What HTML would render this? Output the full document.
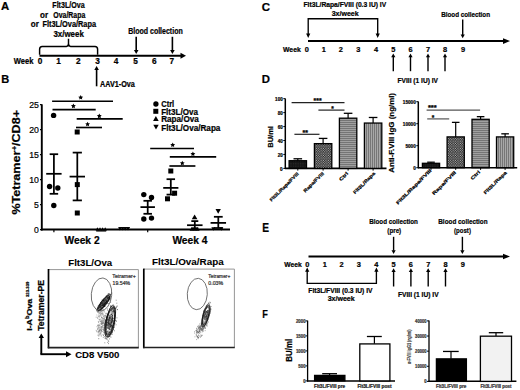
<!DOCTYPE html>
<html><head><meta charset="utf-8"><style>
html,body{margin:0;padding:0;background:#fff;}
body{width:520px;height:390px;overflow:hidden;}
svg{display:block;font-family:"Liberation Sans", sans-serif;}
text{stroke:#000;stroke-width:0.22px;}
</style></head><body>
<svg width="520" height="390" viewBox="0 0 520 390">
<rect width="520" height="390" fill="#fff"/>
<text x="1" y="10.4" font-size="11.5" font-weight="700" text-anchor="start" fill="#000" textLength="8.2" lengthAdjust="spacingAndGlyphs" >A</text>
<text x="52.3" y="8.1" font-size="8.25" font-weight="700" text-anchor="start" fill="#000" textLength="32.3" lengthAdjust="spacingAndGlyphs" >Flt3L/Ova</text>
<text x="40" y="17.6" font-size="8.25" font-weight="700" text-anchor="start" fill="#000" textLength="8" lengthAdjust="spacingAndGlyphs" >or</text>
<text x="53.3" y="17.6" font-size="8.25" font-weight="700" text-anchor="start" fill="#000" textLength="32" lengthAdjust="spacingAndGlyphs" >Ova/Rapa</text>
<text x="30.8" y="27.3" font-size="8.25" font-weight="700" text-anchor="start" fill="#000" textLength="8" lengthAdjust="spacingAndGlyphs" >or</text>
<text x="42.5" y="27.3" font-size="8.25" font-weight="700" text-anchor="start" fill="#000" textLength="53.5" lengthAdjust="spacingAndGlyphs" >Flt3L/Ova/Rapa</text>
<text x="53.4" y="36.9" font-size="8.25" font-weight="700" text-anchor="start" fill="#000" textLength="30.4" lengthAdjust="spacingAndGlyphs" >3x/week</text>
<path d="M39.6,54.8 L39.6,49.2 Q39.6,46.4 42.2,46.4 L66.4,46.4 Q68.5,46.4 68.5,43.6 L68.5,38.8 M68.5,43.6 Q68.5,46.4 70.6,46.4 L95,46.4 Q97.6,46.4 97.6,49.2 L97.6,54.8" fill="none" stroke="#000" stroke-width="1.45"/>
<line x1="39.5" y1="55.8" x2="181.0" y2="55.8" stroke="#000" stroke-width="2"/>
<path d="M180.5,52.8 L180.5,58.8 L186,55.8 Z" fill="#000"/>
<text x="13.8" y="64.2" font-size="8.25" font-weight="700" text-anchor="start" fill="#000" textLength="19.6" lengthAdjust="spacingAndGlyphs" >Week</text>
<text x="40" y="64.3" font-size="8.25" font-weight="700" text-anchor="middle" fill="#000" >0</text>
<text x="58.6" y="64.3" font-size="8.25" font-weight="700" text-anchor="middle" fill="#000" >1</text>
<text x="78.2" y="64.3" font-size="8.25" font-weight="700" text-anchor="middle" fill="#000" >2</text>
<text x="97.5" y="64.3" font-size="8.25" font-weight="700" text-anchor="middle" fill="#000" >3</text>
<text x="116" y="64.3" font-size="8.25" font-weight="700" text-anchor="middle" fill="#000" >4</text>
<text x="135.6" y="64.3" font-size="8.25" font-weight="700" text-anchor="middle" fill="#000" >5</text>
<text x="154.3" y="64.3" font-size="8.25" font-weight="700" text-anchor="middle" fill="#000" >6</text>
<text x="171.8" y="64.3" font-size="8.25" font-weight="700" text-anchor="middle" fill="#000" >7</text>
<text x="128.2" y="34.2" font-size="8.25" font-weight="700" text-anchor="start" fill="#000" textLength="54.5" lengthAdjust="spacingAndGlyphs" >Blood collection</text>
<line x1="136.2" y1="36.8" x2="136.2" y2="50.5" stroke="#000" stroke-width="1.6"/>
<path d="M133.89999999999998,50 L138.5,50 L136.2,54 Z" fill="#000"/>
<line x1="172.4" y1="36.8" x2="172.4" y2="50.5" stroke="#000" stroke-width="1.6"/>
<path d="M170.1,50 L174.70000000000002,50 L172.4,54 Z" fill="#000"/>
<line x1="96.6" y1="86.3" x2="96.6" y2="69.5" stroke="#000" stroke-width="1.6"/>
<path d="M94.3,70 L98.89999999999999,70 L96.6,66 Z" fill="#000"/>
<text x="100" y="86.8" font-size="8.25" font-weight="700" text-anchor="start" fill="#000" textLength="34.8" lengthAdjust="spacingAndGlyphs" >AAV1-Ova</text>
<text x="1.2" y="83" font-size="11.5" font-weight="700" text-anchor="start" fill="#000" textLength="8" lengthAdjust="spacingAndGlyphs" >B</text>
<line x1="41.8" y1="104.3" x2="41.8" y2="230.5" stroke="#000" stroke-width="1.9"/>
<line x1="40" y1="229.7" x2="41.8" y2="229.7" stroke="#000" stroke-width="1.2"/>
<text x="38.9" y="232.89999999999998" font-size="9.6" font-weight="400" text-anchor="end" fill="#000" textLength="4.8" lengthAdjust="spacingAndGlyphs" >0</text>
<line x1="40" y1="204.7" x2="41.8" y2="204.7" stroke="#000" stroke-width="1.2"/>
<text x="38.9" y="207.89999999999998" font-size="9.6" font-weight="400" text-anchor="end" fill="#000" textLength="4.8" lengthAdjust="spacingAndGlyphs" >5</text>
<line x1="40" y1="179.7" x2="41.8" y2="179.7" stroke="#000" stroke-width="1.2"/>
<text x="38.9" y="182.89999999999998" font-size="9.6" font-weight="400" text-anchor="end" fill="#000" textLength="9.7" lengthAdjust="spacingAndGlyphs" >10</text>
<line x1="40" y1="154.7" x2="41.8" y2="154.7" stroke="#000" stroke-width="1.2"/>
<text x="38.9" y="157.89999999999998" font-size="9.6" font-weight="400" text-anchor="end" fill="#000" textLength="9.7" lengthAdjust="spacingAndGlyphs" >15</text>
<line x1="40" y1="129.7" x2="41.8" y2="129.7" stroke="#000" stroke-width="1.2"/>
<text x="38.9" y="132.89999999999998" font-size="9.6" font-weight="400" text-anchor="end" fill="#000" textLength="9.7" lengthAdjust="spacingAndGlyphs" >20</text>
<line x1="40" y1="104.69999999999999" x2="41.8" y2="104.69999999999999" stroke="#000" stroke-width="1.2"/>
<text x="38.9" y="107.89999999999999" font-size="9.6" font-weight="400" text-anchor="end" fill="#000" textLength="9.7" lengthAdjust="spacingAndGlyphs" >25</text>
<line x1="41" y1="229.6" x2="230" y2="229.6" stroke="#000" stroke-width="2.0"/>
<line x1="53.9" y1="229.6" x2="53.9" y2="232.3" stroke="#000" stroke-width="1.2"/>
<line x1="147.7" y1="229.6" x2="147.7" y2="232.3" stroke="#000" stroke-width="1.2"/>
<text x="64.5" y="243.6" font-size="10.3" font-weight="700" text-anchor="start" fill="#000" textLength="35.1" lengthAdjust="spacingAndGlyphs" >Week 2</text>
<text x="172.4" y="243.6" font-size="10.3" font-weight="700" text-anchor="start" fill="#000" textLength="35.1" lengthAdjust="spacingAndGlyphs" >Week 4</text>
<text transform="translate(20.4,214.6) rotate(-90)" font-size="10.3" font-weight="700" textLength="104.6" lengthAdjust="spacingAndGlyphs">%Tetramer<tspan font-size="6.5" dy="-3.5">+</tspan><tspan dy="3.5">/CD8+</tspan></text>
<line x1="52.1" y1="101.2" x2="113" y2="101.2" stroke="#000" stroke-width="1.65"/>
<polygon points="80.70,94.95 81.45,96.47 83.13,96.71 81.91,97.89 82.20,99.56 80.70,98.78 79.20,99.56 79.49,97.89 78.27,96.71 79.95,96.47" fill="#000"/>
<line x1="52.5" y1="109.6" x2="95.7" y2="109.6" stroke="#000" stroke-width="1.65"/>
<polygon points="73.40,103.55 74.15,105.07 75.83,105.31 74.61,106.49 74.90,108.16 73.40,107.38 71.90,108.16 72.19,106.49 70.97,105.31 72.65,105.07" fill="#000"/>
<line x1="76.7" y1="118.9" x2="122.7" y2="118.9" stroke="#000" stroke-width="1.65"/>
<polygon points="99.30,113.55 100.05,115.07 101.73,115.31 100.51,116.49 100.80,118.16 99.30,117.38 97.80,118.16 98.09,116.49 96.87,115.31 98.55,115.07" fill="#000"/>
<line x1="76" y1="127.5" x2="102" y2="127.5" stroke="#000" stroke-width="1.65"/>
<polygon points="87.60,121.65 88.35,123.17 90.03,123.41 88.81,124.59 89.10,126.26 87.60,125.48 86.10,126.26 86.39,124.59 85.17,123.41 86.85,123.17" fill="#000"/>
<line x1="150.2" y1="148.5" x2="194" y2="148.5" stroke="#000" stroke-width="1.65"/>
<polygon points="172.70,142.45 173.45,143.97 175.13,144.21 173.91,145.39 174.20,147.06 172.70,146.28 171.20,147.06 171.49,145.39 170.27,144.21 171.95,143.97" fill="#000"/>
<line x1="169.8" y1="156.9" x2="216.2" y2="156.9" stroke="#000" stroke-width="1.65"/>
<polygon points="192.90,151.45 193.65,152.97 195.33,153.21 194.11,154.39 194.40,156.06 192.90,155.28 191.40,156.06 191.69,154.39 190.47,153.21 192.15,152.97" fill="#000"/>
<line x1="169.4" y1="166" x2="195.4" y2="166" stroke="#000" stroke-width="1.65"/>
<polygon points="182.30,160.65 183.05,162.17 184.73,162.41 183.51,163.59 183.80,165.26 182.30,164.47 180.80,165.26 181.09,163.59 179.87,162.41 181.55,162.17" fill="#000"/>
<line x1="53.9" y1="154.2" x2="53.9" y2="193.8" stroke="#000" stroke-width="1.75"/>
<line x1="49.65" y1="154.2" x2="58.15" y2="154.2" stroke="#000" stroke-width="1.75"/>
<line x1="49.65" y1="193.8" x2="58.15" y2="193.8" stroke="#000" stroke-width="1.75"/>
<line x1="46.199999999999996" y1="173.8" x2="61.6" y2="173.8" stroke="#000" stroke-width="1.75"/>
<circle cx="53.6" cy="115.4" r="2.7" fill="#000"/>
<circle cx="49.6" cy="186.5" r="2.7" fill="#000"/>
<circle cx="57.8" cy="188.0" r="2.7" fill="#000"/>
<circle cx="53.8" cy="205.5" r="2.7" fill="#000"/>
<line x1="77.3" y1="152.6" x2="77.3" y2="200.4" stroke="#000" stroke-width="1.75"/>
<line x1="72.7" y1="152.6" x2="81.89999999999999" y2="152.6" stroke="#000" stroke-width="1.75"/>
<line x1="72.7" y1="200.4" x2="81.89999999999999" y2="200.4" stroke="#000" stroke-width="1.75"/>
<line x1="69.6" y1="176.6" x2="85.0" y2="176.6" stroke="#000" stroke-width="1.75"/>
<rect x="74.7" y="129.5" width="5.0" height="5.0" fill="#000"/>
<rect x="74.8" y="182.1" width="5.0" height="5.0" fill="#000"/>
<rect x="74.8" y="210.5" width="5.0" height="5.0" fill="#000"/>
<path d="M97.4,227.3208 L99.2,230.4528 L95.60000000000001,230.4528 Z" fill="#000"/>
<path d="M100.0,227.3208 L101.8,230.4528 L98.2,230.4528 Z" fill="#000"/>
<path d="M102.60000000000001,227.3208 L104.4,230.4528 L100.80000000000001,230.4528 Z" fill="#000"/>
<path d="M105.2,227.3208 L107.0,230.4528 L103.4,230.4528 Z" fill="#000"/>
<line x1="96.2" y1="230.9" x2="106.2" y2="230.9" stroke="#000" stroke-width="1.3"/>
<path d="M119.9,230.3792 L121.7,227.2472 L118.10000000000001,227.2472 Z" fill="#000"/>
<path d="M122.60000000000001,230.3792 L124.4,227.2472 L120.80000000000001,227.2472 Z" fill="#000"/>
<path d="M125.3,230.3792 L127.1,227.2472 L123.5,227.2472 Z" fill="#000"/>
<path d="M128.0,230.3792 L129.8,227.2472 L126.2,227.2472 Z" fill="#000"/>
<line x1="118.8" y1="227.7" x2="129.8" y2="227.7" stroke="#000" stroke-width="1.2"/>
<line x1="147.7" y1="200.8" x2="147.7" y2="213.8" stroke="#000" stroke-width="1.75"/>
<line x1="143.45" y1="200.8" x2="151.95" y2="200.8" stroke="#000" stroke-width="1.75"/>
<line x1="143.45" y1="213.8" x2="151.95" y2="213.8" stroke="#000" stroke-width="1.75"/>
<line x1="140.45" y1="207.1" x2="154.95" y2="207.1" stroke="#000" stroke-width="1.75"/>
<circle cx="143.8" cy="194.6" r="2.7" fill="#000"/>
<circle cx="151.5" cy="197.5" r="2.7" fill="#000"/>
<circle cx="143.8" cy="219" r="2.7" fill="#000"/>
<circle cx="151.5" cy="218.1" r="2.7" fill="#000"/>
<line x1="170.8" y1="179.2" x2="170.8" y2="194.6" stroke="#000" stroke-width="1.75"/>
<line x1="166.55" y1="179.2" x2="175.05" y2="179.2" stroke="#000" stroke-width="1.75"/>
<line x1="166.55" y1="194.6" x2="175.05" y2="194.6" stroke="#000" stroke-width="1.75"/>
<line x1="163.20000000000002" y1="187.9" x2="178.4" y2="187.9" stroke="#000" stroke-width="1.75"/>
<rect x="168.3" y="168.5" width="5.0" height="5.0" fill="#000"/>
<rect x="165.0" y="196.3" width="5.0" height="5.0" fill="#000"/>
<rect x="172.1" y="190.7" width="5.0" height="5.0" fill="#000"/>
<line x1="194.8" y1="221.1" x2="194.8" y2="228.2" stroke="#000" stroke-width="1.75"/>
<line x1="191.3" y1="221.1" x2="198.3" y2="221.1" stroke="#000" stroke-width="1.75"/>
<line x1="191.3" y1="228.2" x2="198.3" y2="228.2" stroke="#000" stroke-width="1.75"/>
<line x1="187.05" y1="225.2" x2="202.55" y2="225.2" stroke="#000" stroke-width="1.75"/>
<path d="M194.6,214.3768 L197.4,219.24880000000002 L191.79999999999998,219.24880000000002 Z" fill="#000"/>
<path d="M191.6,227.312 L193.6,230.792 L189.6,230.792 Z" fill="#000"/>
<path d="M194.6,227.312 L196.6,230.792 L192.6,230.792 Z" fill="#000"/>
<path d="M197.6,227.312 L199.6,230.792 L195.6,230.792 Z" fill="#000"/>
<line x1="218.3" y1="216.8" x2="218.3" y2="228" stroke="#000" stroke-width="1.75"/>
<line x1="213.9" y1="216.8" x2="222.70000000000002" y2="216.8" stroke="#000" stroke-width="1.75"/>
<line x1="213.9" y1="228" x2="222.70000000000002" y2="228" stroke="#000" stroke-width="1.75"/>
<line x1="210.55" y1="222.9" x2="226.05" y2="222.9" stroke="#000" stroke-width="1.75"/>
<path d="M218.2,213.8188 L220.89999999999998,209.1208 L215.5,209.1208 Z" fill="#000"/>
<path d="M213.3,230.688 L215.3,227.208 L211.3,227.208 Z" fill="#000"/>
<path d="M221.3,230.688 L223.3,227.208 L219.3,227.208 Z" fill="#000"/>
<circle cx="155.9" cy="104.0" r="2.65" fill="#000"/>
<rect x="153.3" y="108.8" width="5.0" height="5.0" fill="#000"/>
<path d="M155.9,116.0768 L158.70000000000002,120.9488 L153.1,120.9488 Z" fill="#000"/>
<path d="M156.0,129.4188 L158.7,124.7208 L153.3,124.7208 Z" fill="#000"/>
<text x="161.2" y="106.5" font-size="8.6" font-weight="700" text-anchor="start" fill="#000" textLength="13" lengthAdjust="spacingAndGlyphs" >Ctrl</text>
<text x="161.2" y="114.8" font-size="8.6" font-weight="700" text-anchor="start" fill="#000" textLength="36.8" lengthAdjust="spacingAndGlyphs" >Flt3L/Ova</text>
<text x="161.2" y="122.1" font-size="8.6" font-weight="700" text-anchor="start" fill="#000" textLength="37.6" lengthAdjust="spacingAndGlyphs" >Rapa/Ova</text>
<text x="161.2" y="130.8" font-size="8.6" font-weight="700" text-anchor="start" fill="#000" textLength="59.2" lengthAdjust="spacingAndGlyphs" >Flt3L/Ova/Rapa</text>
<text x="68.3" y="265.7" font-size="9.4" font-weight="700" text-anchor="start" fill="#000" style="stroke:#000;stroke-width:0.08px" textLength="43.9" lengthAdjust="spacingAndGlyphs" >Flt3L/Ova</text>
<text x="151.9" y="265.3" font-size="9.4" font-weight="700" text-anchor="start" fill="#000" style="stroke:#000;stroke-width:0.08px" textLength="71.8" lengthAdjust="spacingAndGlyphs" >Flt3L/Ova/Rapa</text>
<line x1="48.5" y1="269.6" x2="138.4" y2="269.6" stroke="#8a8a8a" stroke-width="0.9"/>
<line x1="138.4" y1="269.6" x2="138.4" y2="347.5" stroke="#8a8a8a" stroke-width="0.9"/>
<line x1="48.5" y1="269" x2="48.5" y2="348.3" stroke="#000" stroke-width="1.7"/>
<line x1="47.8" y1="347.6" x2="138.8" y2="347.6" stroke="#222" stroke-width="1.6"/>
<line x1="143.8" y1="269.1" x2="234.4" y2="269.1" stroke="#8a8a8a" stroke-width="0.9"/>
<line x1="234.4" y1="269.1" x2="234.4" y2="347.3" stroke="#8a8a8a" stroke-width="0.9"/>
<line x1="143.8" y1="268.6" x2="143.8" y2="348.2" stroke="#000" stroke-width="1.7"/>
<line x1="143.1" y1="347.5" x2="234.8" y2="347.5" stroke="#222" stroke-width="1.6"/>
<line x1="41.3" y1="354.2" x2="41.3" y2="337.6" stroke="#000" stroke-width="1.9"/>
<path d="M38.599999999999994,338.1 L44.0,338.1 L41.3,333.6 Z" fill="#000"/>
<line x1="40.4" y1="354.2" x2="66" y2="354.2" stroke="#000" stroke-width="1.9"/>
<path d="M66,351.2 L66,357.2 L71.5,354.2 Z" fill="#000"/>
<text x="75.2" y="357.8" font-size="9.3" font-weight="700" text-anchor="start" fill="#000" style="stroke:#000;stroke-width:0.1px" textLength="44.2" lengthAdjust="spacingAndGlyphs" >CD8 V500</text>
<text transform="translate(44.1,330.8) rotate(-90)" font-size="8.6" font-weight="700" textLength="50.9" lengthAdjust="spacingAndGlyphs">Tetramer-PE</text>
<text transform="translate(31.7,330.8) rotate(-90)" font-size="7.9" font-weight="700" textLength="32.1" lengthAdjust="spacingAndGlyphs">I-A<tspan font-size="5.2" dy="-2.4">b</tspan><tspan dy="2.4">Ova</tspan></text>
<text transform="translate(29.2,297) rotate(-90)" font-size="4.0" font-weight="700" textLength="15.3" lengthAdjust="spacingAndGlyphs">323-339</text>
<ellipse cx="101.5" cy="294.5" rx="10.2" ry="16.6" transform="rotate(5 101.5 294.5)" fill="none" stroke="#555" stroke-width="0.8"/>
<ellipse cx="197.3" cy="294" rx="10" ry="15.7" transform="rotate(4 197.3 294)" fill="none" stroke="#555" stroke-width="0.8"/>
<text x="112.3" y="278.3" font-size="5.2" font-weight="400" text-anchor="start" fill="#333" style="stroke:#333" textLength="23.5" lengthAdjust="spacingAndGlyphs" >Tetramer+</text>
<text x="112.6" y="284.8" font-size="5.2" font-weight="400" text-anchor="start" fill="#333" style="stroke:#333" textLength="17.6" lengthAdjust="spacingAndGlyphs" >19.54%</text>
<text x="208.3" y="277.8" font-size="5.0" font-weight="400" text-anchor="start" fill="#333" style="stroke:#333" textLength="22" lengthAdjust="spacingAndGlyphs" >Tetramer+</text>
<text x="208.3" y="284.5" font-size="5.0" font-weight="400" text-anchor="start" fill="#333" style="stroke:#333" textLength="14.8" lengthAdjust="spacingAndGlyphs" >0.03%</text>
<g filter="url(#soft)">
<path d="M99.9,333.6h0.7M97.9,331.3h0.7M101.3,323.1h0.7M105.7,327.0h0.7M100.3,330.0h0.7M104.2,325.4h0.7M104.3,318.6h0.7M101.3,321.8h0.7M100.6,314.0h0.7M98.0,322.6h0.7M101.6,322.7h0.7M103.6,315.9h0.7M101.0,326.6h0.7M104.5,319.6h0.7M103.5,311.0h0.7M103.5,309.7h0.7M96.6,331.8h0.7M102.7,323.0h0.7M101.8,328.8h0.7M104.3,323.9h0.7M101.0,320.6h0.7M99.2,324.2h0.7M98.1,331.9h0.7M98.7,316.6h0.7M102.3,310.2h0.7M101.6,321.3h0.7M105.1,320.5h0.7M102.1,320.3h0.7M104.7,317.5h0.7M100.8,327.4h0.7M103.7,332.3h0.7M99.9,326.8h0.7M98.0,336.0h0.7M102.3,323.6h0.7M101.3,323.5h0.7M102.4,318.9h0.7M100.6,327.5h0.7M101.2,323.9h0.7M100.9,331.8h0.7M101.0,322.2h0.7M105.3,329.6h0.7M104.2,321.4h0.7M98.3,326.5h0.7M101.1,317.3h0.7M99.2,320.9h0.7M104.7,322.6h0.7M97.1,328.9h0.7M100.4,330.8h0.7M104.6,324.4h0.7M101.2,324.6h0.7M97.9,329.0h0.7M104.5,326.9h0.7M101.3,323.1h0.7M100.8,319.1h0.7M101.8,319.0h0.7M102.8,314.0h0.7M102.3,325.5h0.7M99.9,332.6h0.7M100.5,321.3h0.7M99.2,329.2h0.7M97.9,331.3h0.7M99.4,331.2h0.7M101.9,323.4h0.7M99.0,319.6h0.7M99.9,329.4h0.7M103.1,320.4h0.7M101.0,332.0h0.7M101.8,321.9h0.7M99.4,330.4h0.7M104.1,318.9h0.7M103.1,321.9h0.7M97.9,333.1h0.7M104.5,320.4h0.7M101.0,328.5h0.7M100.2,323.9h0.7M105.7,313.1h0.7M101.2,330.2h0.7M104.6,316.1h0.7M103.5,319.2h0.7M102.0,329.4h0.7M103.1,319.9h0.7M98.9,330.6h0.7M98.7,327.9h0.7M103.1,323.3h0.7M103.4,323.2h0.7M104.1,311.9h0.7M101.5,317.6h0.7M99.7,331.0h0.7M101.1,327.6h0.7M100.5,321.7h0.7M102.2,323.1h0.7M105.7,319.6h0.7M107.4,319.2h0.7M105.1,320.2h0.7M105.2,326.8h0.7M101.4,330.3h0.7M101.5,317.5h0.7M100.7,320.6h0.7M98.5,338.6h0.7M97.1,325.8h0.7M99.8,328.4h0.7M97.9,321.4h0.7M101.2,336.1h0.7M106.5,319.9h0.7M101.8,324.3h0.7M100.4,314.5h0.7M102.9,327.1h0.7M99.4,333.3h0.7M98.4,328.1h0.7M101.6,324.6h0.7M102.4,326.4h0.7M101.7,327.0h0.7M106.5,323.8h0.7M103.0,329.7h0.7M99.5,330.3h0.7M97.8,332.5h0.7M100.3,321.2h0.7M101.0,330.9h0.7M102.3,331.6h0.7M102.4,318.4h0.7M102.4,327.3h0.7M97.8,331.2h0.7M103.4,318.5h0.7M104.5,316.1h0.7M98.9,327.3h0.7M97.8,324.5h0.7M97.3,329.4h0.7M99.5,325.9h0.7M98.5,321.9h0.7M103.1,328.6h0.7M95.8,330.4h0.7M104.1,322.9h0.7M106.4,318.5h0.7M99.7,332.6h0.7M102.7,334.4h0.7M101.5,312.3h0.7M104.5,315.4h0.7M103.1,316.2h0.7M102.8,331.0h0.7M102.8,325.4h0.7M102.0,323.0h0.7M102.0,326.9h0.7M103.2,322.3h0.7M105.5,327.9h0.7M102.8,334.8h0.7M101.9,313.0h0.7M105.0,323.0h0.7M102.1,323.3h0.7M103.5,316.9h0.7M101.9,321.8h0.7M102.9,327.7h0.7M98.5,319.1h0.7M100.7,329.3h0.7M99.5,334.5h0.7M103.0,318.2h0.7M98.8,329.8h0.7M98.8,330.5h0.7M103.0,329.5h0.7M104.1,324.3h0.7M102.3,320.9h0.7M102.3,314.0h0.7M101.8,317.4h0.7M97.9,325.3h0.7M103.1,322.9h0.7M103.3,332.1h0.7M104.8,321.4h0.7M97.2,328.1h0.7M101.2,330.1h0.7M100.6,333.8h0.7M99.9,329.4h0.7M98.3,335.0h0.7M96.1,331.1h0.7M100.5,321.9h0.7M101.3,326.5h0.7M99.0,325.4h0.7M101.3,330.9h0.7M97.5,335.2h0.7M98.1,325.5h0.7M96.6,326.7h0.7M104.5,317.4h0.7M97.5,325.5h0.7M104.1,319.9h0.7M99.6,325.7h0.7M99.6,335.9h0.7M103.4,321.2h0.7M101.1,330.1h0.7M100.8,335.2h0.7M107.1,314.3h0.7M98.4,338.7h0.7M99.1,331.4h0.7M102.0,322.1h0.7M103.7,332.9h0.7M99.6,331.1h0.7M99.5,319.4h0.7M103.6,325.7h0.7M98.4,327.6h0.7M100.4,334.0h0.7M104.1,323.6h0.7M100.6,323.8h0.7M98.8,334.9h0.7" stroke="#777" stroke-width="0.7" fill="none"/>
<path d="M100.3,319.2h0.7M101.0,313.7h0.7M102.0,313.8h0.7M103.0,309.6h0.7M97.0,317.6h0.7M100.8,308.9h0.7M97.1,318.5h0.7M102.8,314.3h0.7M99.4,313.3h0.7M98.5,313.3h0.7M101.9,309.6h0.7M99.5,312.8h0.7M100.4,310.1h0.7M100.2,312.6h0.7M101.1,313.8h0.7M96.6,317.2h0.7M99.5,311.0h0.7M100.4,311.0h0.7M98.7,315.4h0.7M101.2,317.1h0.7M102.1,310.6h0.7M101.4,311.3h0.7M98.3,316.6h0.7M100.7,313.6h0.7M98.9,313.3h0.7M101.7,311.5h0.7M97.8,316.0h0.7M98.1,311.3h0.7M95.7,317.2h0.7M100.1,316.0h0.7M100.2,315.2h0.7M103.0,309.9h0.7M99.5,315.9h0.7M96.5,315.0h0.7M103.5,310.4h0.7M99.8,312.7h0.7M98.6,314.6h0.7M98.4,312.2h0.7M99.2,316.2h0.7M100.5,313.4h0.7M101.9,314.0h0.7M98.7,311.7h0.7M100.7,311.6h0.7M102.6,312.2h0.7M99.5,310.2h0.7M102.6,315.6h0.7M100.6,310.7h0.7M98.6,312.6h0.7M98.8,317.6h0.7M101.4,315.8h0.7" stroke="#888" stroke-width="0.7" fill="none"/>
<path d="M106.2,297.8h0.7M105.8,301.4h0.7M109.4,296.5h0.7M104.2,305.0h0.7M102.6,304.6h0.7M96.2,310.3h0.7M105.6,300.0h0.7M109.0,298.5h0.7M108.6,300.8h0.7M107.2,298.1h0.7M108.0,299.4h0.7M108.2,297.1h0.7M103.7,303.7h0.7M103.7,304.7h0.7M101.3,308.0h0.7M107.7,296.5h0.7M99.7,304.5h0.7M99.7,307.2h0.7M107.7,297.8h0.7M107.1,297.9h0.7M99.6,305.9h0.7M104.6,300.0h0.7M104.9,303.4h0.7M106.1,300.1h0.7M102.5,302.7h0.7M102.1,305.6h0.7M102.0,303.7h0.7M104.4,303.5h0.7M101.2,308.1h0.7M104.0,303.2h0.7M101.4,303.1h0.7M105.0,301.0h0.7M100.7,304.5h0.7M102.5,304.8h0.7M102.8,302.4h0.7M105.4,298.8h0.7M103.5,304.0h0.7M106.7,298.7h0.7M108.3,297.7h0.7M106.4,301.8h0.7M101.2,306.4h0.7M109.5,297.0h0.7M102.3,304.1h0.7M104.1,302.3h0.7M104.3,303.5h0.7M103.3,303.9h0.7M104.2,306.4h0.7M106.2,301.3h0.7M106.3,302.9h0.7M104.7,302.4h0.7M98.7,308.3h0.7M105.1,302.4h0.7M96.5,311.0h0.7M102.7,306.6h0.7M98.2,308.0h0.7M105.8,301.9h0.7M109.7,294.7h0.7M108.9,298.1h0.7M106.8,301.4h0.7M101.8,303.7h0.7M108.4,297.4h0.7M101.7,305.4h0.7M108.5,295.9h0.7M107.1,297.7h0.7M103.0,302.2h0.7M104.7,301.5h0.7M100.4,302.5h0.7M105.2,300.4h0.7M97.3,312.0h0.7M107.9,293.5h0.7M107.9,299.7h0.7M109.4,299.3h0.7M100.3,306.1h0.7M103.7,305.7h0.7M105.1,302.5h0.7M104.1,301.2h0.7M103.3,307.3h0.7M102.9,304.1h0.7M100.9,309.1h0.7M104.1,302.1h0.7M99.8,308.9h0.7M98.8,305.0h0.7M105.9,295.9h0.7M103.6,301.2h0.7M102.9,304.5h0.7M105.9,300.8h0.7M103.3,306.4h0.7M97.8,311.8h0.7M105.9,296.9h0.7M111.5,293.1h0.7M98.8,307.1h0.7M102.8,302.9h0.7M109.2,297.8h0.7M106.6,299.9h0.7M103.4,300.1h0.7M105.4,300.6h0.7M99.6,306.4h0.7M103.7,306.5h0.7M107.6,297.5h0.7M106.8,296.5h0.7M101.0,307.2h0.7M105.4,303.5h0.7M102.8,303.0h0.7M102.0,305.6h0.7M108.5,300.9h0.7M103.4,300.4h0.7M106.9,302.1h0.7M107.9,297.9h0.7M102.8,304.8h0.7M106.8,298.5h0.7M102.6,300.2h0.7M104.8,306.3h0.7M100.0,307.4h0.7M97.8,308.1h0.7M106.9,298.6h0.7M103.1,305.8h0.7M102.7,303.3h0.7M100.4,310.3h0.7M107.9,303.5h0.7M101.9,304.2h0.7M99.7,307.1h0.7M103.0,300.3h0.7M96.8,308.5h0.7M99.7,307.5h0.7M110.3,298.4h0.7M101.1,305.8h0.7M104.6,302.0h0.7M101.9,307.8h0.7M103.6,301.3h0.7M104.2,304.3h0.7M108.2,297.4h0.7M107.3,303.4h0.7M104.5,302.7h0.7M103.6,303.4h0.7M101.5,303.5h0.7M104.3,305.8h0.7M103.3,305.7h0.7M97.5,311.3h0.7M101.6,303.7h0.7M104.4,305.1h0.7M106.4,296.3h0.7M109.7,299.7h0.7M102.1,305.2h0.7M110.5,294.3h0.7M101.7,300.1h0.7M103.8,300.5h0.7M103.5,303.5h0.7M107.6,300.6h0.7M109.3,297.2h0.7M100.3,304.4h0.7M102.4,305.6h0.7M103.7,300.1h0.7M99.9,306.1h0.7M108.3,298.0h0.7M105.3,302.5h0.7M99.3,307.4h0.7M97.9,305.7h0.7M104.3,301.6h0.7M104.4,298.6h0.7M102.6,302.0h0.7M102.5,308.2h0.7M99.7,305.9h0.7M105.3,299.7h0.7M105.9,301.8h0.7M97.5,307.1h0.7M100.9,305.7h0.7M100.1,306.5h0.7M102.0,305.0h0.7M103.7,304.9h0.7M102.8,304.6h0.7" stroke="#222" stroke-width="0.7" fill="none"/>
<path d="M106.0,317.7h0.7M115.0,308.6h0.7M110.5,320.7h0.7M111.6,325.9h0.7M107.7,322.2h0.7M109.5,320.5h0.7M111.1,306.8h0.7M110.2,324.8h0.7M111.7,314.7h0.7M108.4,341.6h0.7M111.3,319.3h0.7M114.4,319.0h0.7M108.5,325.1h0.7M108.8,327.5h0.7M110.2,326.5h0.7M111.2,325.5h0.7M112.6,321.1h0.7M105.3,322.5h0.7M109.5,323.8h0.7M104.4,336.6h0.7M113.8,307.5h0.7M106.0,324.1h0.7M105.8,326.0h0.7M112.5,315.3h0.7M112.4,316.1h0.7M116.6,317.8h0.7M109.8,329.6h0.7M109.8,325.3h0.7M113.5,320.7h0.7M112.0,317.9h0.7M115.7,324.8h0.7M111.2,308.8h0.7M111.3,316.8h0.7M107.7,318.0h0.7M110.3,334.3h0.7M106.3,333.4h0.7M107.0,328.4h0.7M105.4,333.1h0.7M117.0,306.1h0.7M108.9,327.4h0.7M105.4,320.7h0.7M105.2,334.9h0.7M106.3,324.8h0.7M105.2,316.0h0.7M114.0,321.2h0.7M105.3,326.6h0.7M112.0,327.3h0.7M116.2,306.3h0.7M114.0,330.8h0.7M107.7,327.3h0.7M105.7,313.5h0.7M103.0,330.2h0.7M111.5,311.2h0.7M106.6,334.2h0.7M106.7,327.7h0.7M110.4,302.2h0.7M109.4,318.2h0.7M108.7,332.5h0.7M109.8,317.4h0.7M111.5,327.0h0.7M109.5,324.4h0.7M106.3,316.8h0.7M116.5,303.2h0.7M114.1,315.9h0.7M110.6,316.4h0.7M113.8,314.6h0.7M108.4,328.7h0.7M114.6,308.4h0.7M110.5,323.2h0.7M109.8,322.8h0.7M112.3,315.6h0.7M107.6,332.7h0.7M107.2,320.2h0.7M109.5,309.1h0.7M108.6,323.5h0.7M115.1,320.3h0.7M111.8,328.3h0.7M110.5,322.4h0.7M106.9,322.6h0.7M117.1,309.5h0.7M106.7,331.7h0.7M107.2,309.0h0.7M109.0,332.6h0.7M112.1,330.9h0.7M106.8,318.8h0.7M111.2,326.2h0.7M103.7,324.9h0.7M108.3,319.0h0.7M114.9,320.7h0.7M108.5,320.0h0.7M110.6,332.5h0.7M109.6,314.1h0.7M116.0,307.9h0.7M109.8,325.6h0.7M107.1,325.2h0.7M108.1,343.6h0.7M107.4,342.4h0.7M112.0,319.8h0.7M113.9,316.3h0.7M109.3,328.8h0.7M113.0,325.5h0.7M103.1,335.5h0.7M111.4,318.4h0.7M106.6,327.8h0.7M109.7,329.6h0.7M106.5,338.9h0.7M108.5,326.2h0.7M108.5,333.8h0.7M108.8,317.9h0.7M111.0,314.1h0.7M110.9,307.7h0.7M109.1,338.9h0.7M105.6,329.8h0.7M108.6,311.9h0.7M109.0,322.9h0.7M115.8,300.2h0.7M106.2,321.9h0.7M110.8,314.2h0.7M108.2,322.1h0.7M111.6,311.5h0.7M112.7,306.8h0.7M111.3,330.9h0.7M114.2,311.7h0.7M105.6,315.1h0.7M106.1,325.4h0.7M107.5,310.3h0.7M109.6,326.6h0.7M113.2,307.5h0.7M114.8,312.9h0.7M116.1,321.2h0.7M112.0,312.3h0.7M114.4,323.7h0.7M112.0,311.2h0.7M106.0,322.9h0.7M106.8,339.2h0.7M108.3,316.9h0.7M111.3,331.4h0.7M105.0,337.7h0.7M109.6,332.0h0.7M109.1,332.8h0.7M109.4,319.0h0.7M112.5,326.7h0.7M108.8,334.7h0.7M110.0,326.3h0.7M114.5,312.2h0.7M108.8,324.0h0.7M107.9,331.3h0.7M112.0,319.9h0.7M114.2,318.2h0.7M107.4,324.8h0.7M112.4,320.4h0.7M108.2,315.2h0.7M109.4,329.4h0.7M115.7,320.9h0.7M112.0,332.6h0.7M111.8,313.6h0.7M104.6,338.2h0.7M109.6,336.6h0.7M107.2,335.0h0.7M102.9,337.3h0.7M112.7,308.3h0.7M111.1,310.5h0.7M112.6,313.6h0.7M107.2,316.9h0.7M109.1,323.8h0.7M109.5,336.2h0.7M107.8,340.4h0.7M115.8,307.4h0.7M109.1,324.0h0.7M106.9,314.3h0.7M112.6,318.4h0.7M112.5,308.7h0.7M111.3,315.3h0.7M106.9,316.3h0.7M109.6,317.4h0.7M110.6,334.2h0.7M112.2,317.8h0.7M111.4,322.1h0.7M113.0,310.9h0.7M109.5,315.7h0.7M110.3,321.0h0.7M106.0,338.7h0.7M110.1,324.3h0.7M107.8,320.0h0.7M111.7,321.0h0.7M113.2,311.3h0.7M113.5,310.4h0.7M110.6,312.7h0.7M108.3,334.0h0.7M113.0,312.0h0.7M108.3,333.4h0.7M111.2,327.7h0.7M108.1,314.8h0.7M109.2,315.9h0.7M110.8,322.2h0.7M107.9,327.8h0.7M108.8,317.6h0.7M113.5,306.5h0.7M110.7,305.5h0.7M107.4,319.5h0.7M109.1,325.4h0.7M113.6,309.1h0.7M108.1,313.2h0.7M108.4,323.6h0.7M112.0,322.0h0.7M110.9,331.4h0.7M107.8,322.4h0.7M113.9,316.9h0.7M113.3,323.3h0.7M114.7,323.1h0.7M113.4,327.5h0.7M106.7,333.5h0.7M107.6,330.7h0.7M110.7,334.0h0.7M109.8,326.2h0.7M112.8,307.8h0.7M113.2,308.4h0.7M110.0,318.1h0.7M110.9,309.4h0.7M110.6,321.5h0.7M112.9,329.5h0.7M114.0,316.9h0.7M112.0,307.5h0.7M106.1,329.2h0.7M109.9,320.0h0.7M105.2,338.7h0.7M107.5,334.4h0.7M108.0,332.3h0.7M110.3,306.0h0.7M114.1,318.9h0.7M109.1,331.6h0.7M111.7,325.1h0.7M108.2,313.2h0.7M108.9,328.9h0.7M110.9,326.1h0.7M108.0,321.2h0.7M114.9,312.5h0.7M106.6,331.5h0.7M113.9,327.2h0.7M112.3,311.0h0.7M111.6,312.7h0.7M109.1,329.8h0.7M108.7,336.5h0.7M110.0,306.9h0.7M111.9,334.2h0.7M107.1,322.6h0.7M107.1,320.9h0.7M109.0,332.6h0.7M110.1,306.9h0.7M112.6,318.2h0.7M116.8,309.7h0.7M110.6,337.2h0.7M112.1,318.5h0.7M104.5,342.8h0.7M114.1,315.5h0.7M110.2,328.2h0.7M113.7,311.6h0.7M106.7,332.6h0.7M113.0,318.3h0.7M107.0,331.6h0.7" stroke="#333" stroke-width="0.7" fill="none"/>
<path d="M106.14,304.22 L105.08,305.73 L103.90,307.24 L102.69,308.47 L101.63,309.25 L100.75,309.69 L99.96,310.07 L99.17,310.47 L98.44,310.73 L97.89,310.71 L97.52,310.42 L97.30,309.92 L97.32,309.14 L97.65,308.04 L98.27,306.71 L99.02,305.31 L99.83,303.90 L100.74,302.43 L101.83,300.97 L102.99,299.67 L104.09,298.55 L105.15,297.43 L106.29,296.18 L107.48,295.00 L108.54,294.20 L109.34,293.90 L109.90,293.97 L110.29,294.26 L110.48,294.78 L110.43,295.57 L110.21,296.52 L109.92,297.53 L109.54,298.62 L108.96,299.90 L108.12,301.32 L107.14,302.77 L106.14,304.22Z" fill="none" stroke="#111" stroke-width="0.65"/>
<path d="M106.10,304.18 L104.98,305.43 L103.91,306.56 L102.87,307.68 L101.83,308.69 L100.89,309.39 L100.13,309.76 L99.48,309.97 L98.85,310.14 L98.28,310.19 L97.88,309.98 L97.71,309.47 L97.74,308.73 L97.98,307.76 L98.54,306.52 L99.38,305.11 L100.34,303.74 L101.23,302.45 L102.09,301.16 L103.03,299.79 L104.09,298.49 L105.16,297.41 L106.16,296.54 L107.14,295.73 L108.11,295.00 L108.94,294.56 L109.51,294.54 L109.81,294.89 L109.94,295.44 L109.92,296.13 L109.73,296.99 L109.39,297.98 L109.02,299.00 L108.62,300.08 L108.05,301.34 L107.18,302.77 L106.10,304.18Z" fill="none" stroke="#111" stroke-width="0.65"/>
<path d="M105.77,303.93 L104.87,305.11 L103.92,306.24 L102.96,307.28 L101.98,308.24 L101.03,309.08 L100.19,309.64 L99.54,309.87 L99.03,309.88 L98.59,309.79 L98.27,309.52 L98.24,308.90 L98.56,307.93 L99.06,306.83 L99.52,305.82 L99.90,304.83 L100.39,303.72 L101.12,302.45 L102.06,301.14 L103.07,299.90 L104.08,298.77 L105.07,297.78 L106.00,297.01 L106.82,296.44 L107.57,295.99 L108.29,295.62 L108.88,295.46 L109.25,295.64 L109.41,296.07 L109.52,296.56 L109.65,297.07 L109.61,297.79 L109.21,298.86 L108.44,300.18 L107.52,301.51 L106.63,302.74 L105.77,303.93Z" fill="none" stroke="#111" stroke-width="0.65"/>
<path d="M105.67,303.86 L104.83,304.99 L103.92,306.12 L102.98,307.19 L102.07,308.01 L101.33,308.43 L100.78,308.56 L100.28,308.65 L99.74,308.83 L99.23,308.94 L98.92,308.72 L98.89,308.18 L99.02,307.48 L99.20,306.71 L99.48,305.84 L99.97,304.80 L100.65,303.64 L101.45,302.46 L102.31,301.32 L103.19,300.26 L104.07,299.35 L104.90,298.57 L105.71,297.82 L106.58,296.97 L107.47,296.18 L108.22,295.73 L108.68,295.76 L108.90,296.10 L109.03,296.53 L109.13,296.99 L109.07,297.63 L108.77,298.51 L108.28,299.53 L107.72,300.58 L107.12,301.63 L106.45,302.73 L105.67,303.86Z" fill="none" stroke="#111" stroke-width="0.65"/>
<path d="M105.25,303.54 L104.61,304.37 L103.94,305.18 L103.25,305.97 L102.56,306.64 L101.94,307.10 L101.40,307.40 L100.90,307.64 L100.45,307.80 L100.15,307.71 L100.10,307.30 L100.25,306.70 L100.43,306.10 L100.53,305.57 L100.66,305.00 L100.94,304.27 L101.41,303.40 L102.01,302.49 L102.66,301.59 L103.35,300.73 L104.06,299.98 L104.73,299.35 L105.36,298.80 L105.97,298.29 L106.55,297.88 L107.01,297.70 L107.32,297.74 L107.59,297.84 L107.88,297.92 L108.13,298.09 L108.16,298.52 L107.89,299.26 L107.42,300.15 L106.90,301.02 L106.39,301.86 L105.85,302.70 L105.25,303.54Z" fill="none" stroke="#111" stroke-width="0.65"/>
<path d="M104.84,303.24 L104.42,303.80 L103.96,304.31 L103.52,304.74 L103.09,305.15 L102.64,305.57 L102.18,305.96 L101.81,306.16 L101.60,306.11 L101.53,305.88 L101.51,305.60 L101.50,305.34 L101.52,305.03 L101.62,304.64 L101.79,304.19 L102.01,303.69 L102.30,303.13 L102.68,302.53 L103.12,301.94 L103.58,301.38 L104.04,300.84 L104.51,300.33 L104.96,299.92 L105.33,299.69 L105.62,299.61 L105.88,299.54 L106.19,299.40 L106.49,299.29 L106.69,299.35 L106.75,299.60 L106.68,299.98 L106.53,300.43 L106.30,300.95 L105.98,301.52 L105.62,302.10 L105.24,302.67 L104.84,303.24Z" fill="none" stroke="#111" stroke-width="0.65"/>
<path d="M114.56,322.55 L114.15,325.48 L113.46,328.37 L112.56,330.88 L111.61,332.98 L110.65,334.75 L109.70,336.12 L108.79,336.92 L107.95,337.23 L107.17,337.30 L106.42,337.12 L105.79,336.39 L105.36,334.99 L105.08,333.22 L104.82,331.36 L104.59,329.30 L104.59,326.75 L105.00,323.77 L105.72,320.83 L106.54,318.20 L107.29,315.75 L108.04,313.30 L108.86,310.96 L109.76,308.98 L110.70,307.38 L111.65,306.07 L112.58,305.22 L113.43,305.11 L114.12,305.71 L114.70,306.72 L115.20,307.96 L115.55,309.66 L115.61,311.98 L115.37,314.69 L115.04,317.35 L114.78,319.87 L114.56,322.55Z" fill="none" stroke="#111" stroke-width="0.65"/>
<path d="M114.33,322.50 L113.90,325.24 L113.32,328.10 L112.50,330.66 L111.55,332.51 L110.61,333.69 L109.75,334.66 L108.91,335.64 L108.07,336.41 L107.29,336.68 L106.58,336.46 L105.94,335.89 L105.40,334.88 L105.06,333.25 L104.97,331.10 L105.03,328.71 L105.17,326.23 L105.43,323.60 L105.94,320.87 L106.67,318.32 L107.47,316.10 L108.21,313.96 L108.94,311.60 L109.77,309.21 L110.70,307.36 L111.62,306.34 L112.47,306.00 L113.23,306.09 L113.89,306.62 L114.40,307.71 L114.75,309.21 L115.01,310.87 L115.22,312.68 L115.27,314.83 L115.09,317.30 L114.73,319.90 L114.33,322.50Z" fill="none" stroke="#111" stroke-width="0.65"/>
<path d="M114.09,322.46 L113.46,324.82 L112.84,327.11 L112.18,329.39 L111.43,331.54 L110.60,333.45 L109.73,335.12 L108.84,336.42 L107.99,336.96 L107.32,336.53 L106.83,335.43 L106.42,334.29 L105.97,333.32 L105.55,332.17 L105.33,330.45 L105.38,328.23 L105.59,325.85 L105.83,323.44 L106.14,320.91 L106.61,318.27 L107.30,315.75 L108.11,313.56 L108.96,311.73 L109.81,310.26 L110.63,309.25 L111.41,308.66 L112.16,308.15 L112.95,307.55 L113.76,307.17 L114.44,307.59 L114.83,308.99 L114.97,310.97 L115.04,313.01 L115.08,315.08 L114.99,317.39 L114.64,319.93 L114.09,322.46Z" fill="none" stroke="#111" stroke-width="0.65"/>
<path d="M113.82,322.40 L113.24,324.61 L112.63,326.67 L112.01,328.73 L111.35,330.92 L110.59,332.97 L109.76,334.39 L108.97,335.01 L108.25,335.16 L107.57,335.25 L106.90,335.15 L106.37,334.47 L106.07,333.05 L105.96,331.24 L105.91,329.40 L105.87,327.56 L105.91,325.56 L106.09,323.34 L106.40,320.96 L106.85,318.49 L107.45,316.06 L108.21,313.96 L109.04,312.43 L109.84,311.32 L110.60,310.25 L111.37,309.10 L112.14,308.28 L112.82,308.20 L113.37,308.77 L113.85,309.55 L114.33,310.35 L114.76,311.45 L114.98,313.12 L114.93,315.29 L114.68,317.67 L114.31,320.06 L113.82,322.40Z" fill="none" stroke="#111" stroke-width="0.65"/>
<path d="M113.66,322.37 L113.08,324.46 L112.49,326.40 L111.87,328.18 L111.21,329.77 L110.53,331.27 L109.82,332.73 L109.07,333.92 L108.35,334.49 L107.74,334.35 L107.23,333.82 L106.74,333.23 L106.29,332.43 L106.03,331.09 L106.03,329.18 L106.24,327.07 L106.46,325.07 L106.64,323.12 L106.85,321.05 L107.22,318.85 L107.75,316.68 L108.38,314.63 L109.09,312.82 L109.85,311.43 L110.59,310.60 L111.27,310.18 L111.91,309.85 L112.56,309.55 L113.16,309.64 L113.60,310.38 L113.87,311.62 L114.09,312.95 L114.34,314.26 L114.54,315.82 L114.50,317.83 L114.17,320.12 L113.66,322.37Z" fill="none" stroke="#111" stroke-width="0.65"/>
<path d="M112.16,322.08 L111.94,323.36 L111.66,324.69 L111.29,325.93 L110.85,326.90 L110.40,327.50 L109.98,327.92 L109.58,328.37 L109.17,328.79 L108.79,328.93 L108.49,328.67 L108.26,328.16 L108.05,327.61 L107.84,327.01 L107.69,326.21 L107.66,325.15 L107.75,323.91 L107.93,322.60 L108.19,321.31 L108.51,320.09 L108.88,319.00 L109.25,318.02 L109.61,316.99 L110.00,315.91 L110.43,314.99 L110.87,314.49 L111.26,314.39 L111.61,314.44 L111.96,314.54 L112.27,314.81 L112.48,315.45 L112.55,316.41 L112.54,317.49 L112.51,318.57 L112.45,319.68 L112.33,320.85 L112.16,322.08Z" fill="none" stroke="#111" stroke-width="0.65"/>
<path d="M111.67,321.99 L111.45,322.89 L111.16,323.67 L110.87,324.32 L110.61,324.96 L110.34,325.68 L110.04,326.37 L109.72,326.84 L109.43,326.99 L109.18,326.95 L108.95,326.81 L108.74,326.55 L108.60,326.09 L108.53,325.46 L108.51,324.74 L108.51,323.98 L108.57,323.17 L108.69,322.30 L108.84,321.44 L109.01,320.56 L109.19,319.63 L109.43,318.69 L109.73,317.91 L110.05,317.43 L110.36,317.17 L110.64,316.97 L110.92,316.75 L111.18,316.65 L111.41,316.76 L111.59,317.06 L111.75,317.44 L111.88,317.92 L111.96,318.54 L111.96,319.31 L111.91,320.16 L111.82,321.05 L111.67,321.99Z" fill="none" stroke="#111" stroke-width="0.65"/>
<path d="M111.11,321.88 L110.97,322.44 L110.81,322.96 L110.66,323.48 L110.49,324.00 L110.29,324.40 L110.10,324.62 L109.92,324.69 L109.76,324.71 L109.61,324.74 L109.46,324.73 L109.32,324.64 L109.20,324.43 L109.11,324.14 L109.06,323.74 L109.07,323.23 L109.14,322.65 L109.24,322.08 L109.34,321.53 L109.45,320.98 L109.58,320.44 L109.75,319.97 L109.94,319.59 L110.12,319.25 L110.30,318.88 L110.49,318.52 L110.69,318.31 L110.86,318.30 L111.00,318.45 L111.10,318.70 L111.17,319.03 L111.21,319.43 L111.22,319.87 L111.23,320.31 L111.23,320.77 L111.20,321.30 L111.11,321.88Z" fill="none" stroke="#111" stroke-width="0.65"/>
<path d="M202.0,329.9h0.7M200.9,336.1h0.7M198.5,332.6h0.7M202.2,329.0h0.7M202.9,328.0h0.7M198.1,332.1h0.7M198.7,326.7h0.7M196.6,331.5h0.7M194.6,336.8h0.7M204.8,328.3h0.7M201.4,328.2h0.7M198.5,332.4h0.7M206.8,326.1h0.7M199.8,328.2h0.7M199.2,329.8h0.7M202.5,328.3h0.7M196.1,339.6h0.7M195.7,334.8h0.7M200.1,337.1h0.7M197.4,331.1h0.7M201.5,323.9h0.7M198.9,331.7h0.7M200.1,328.8h0.7M203.1,327.3h0.7M199.1,333.4h0.7M200.0,332.7h0.7M199.0,327.2h0.7M197.6,332.1h0.7M196.5,328.2h0.7M195.6,330.6h0.7M199.1,329.2h0.7M197.7,337.9h0.7M198.0,329.0h0.7M197.0,326.6h0.7M197.2,331.7h0.7M199.7,329.9h0.7M198.9,326.9h0.7M198.0,328.4h0.7M196.5,329.0h0.7M199.8,336.9h0.7M197.8,337.3h0.7M199.1,331.2h0.7M197.9,325.4h0.7M206.6,323.5h0.7M200.9,329.7h0.7M198.7,330.5h0.7M203.0,324.8h0.7M204.5,321.7h0.7M203.1,331.1h0.7M204.1,326.6h0.7M201.2,336.0h0.7M200.3,330.9h0.7M202.7,326.9h0.7M200.5,328.5h0.7M197.1,336.6h0.7M201.7,332.0h0.7M202.1,329.1h0.7M203.3,322.1h0.7M200.7,323.1h0.7M200.5,328.7h0.7M198.1,335.0h0.7M201.8,329.7h0.7M200.0,327.8h0.7M203.6,326.3h0.7M197.9,327.0h0.7M199.2,336.0h0.7M206.1,322.0h0.7M198.1,332.4h0.7M197.7,338.7h0.7M197.5,330.1h0.7M197.8,327.0h0.7M197.4,332.7h0.7M204.8,322.2h0.7M199.1,331.0h0.7M204.7,328.0h0.7M200.0,326.1h0.7M202.8,329.5h0.7M199.3,331.6h0.7M195.9,333.3h0.7M201.2,324.9h0.7M201.7,323.7h0.7M200.5,325.1h0.7M198.4,327.5h0.7M202.2,327.4h0.7M202.6,326.1h0.7M201.4,328.4h0.7M197.9,328.8h0.7M201.5,326.5h0.7M198.8,331.8h0.7M199.1,326.0h0.7M201.4,330.2h0.7M196.9,329.7h0.7M196.0,335.3h0.7M204.7,324.2h0.7M202.2,330.7h0.7M199.6,329.3h0.7M202.7,326.1h0.7M196.1,334.9h0.7M199.8,325.8h0.7M204.0,326.3h0.7M199.1,330.6h0.7M199.3,327.2h0.7M199.0,327.6h0.7M200.7,329.9h0.7M199.7,331.4h0.7M204.3,325.8h0.7M196.5,336.4h0.7M200.4,328.1h0.7M202.0,326.4h0.7M201.3,330.1h0.7M198.0,332.5h0.7M206.0,324.7h0.7M199.9,327.8h0.7M195.8,330.9h0.7M202.2,335.3h0.7M202.6,323.3h0.7M202.0,329.8h0.7M198.7,331.4h0.7M197.6,337.4h0.7M200.5,335.0h0.7M194.0,333.1h0.7M204.2,323.0h0.7M201.1,328.6h0.7M197.6,333.5h0.7M196.0,330.8h0.7M205.3,325.9h0.7M204.5,328.1h0.7M196.5,332.7h0.7M204.8,321.5h0.7M197.3,331.8h0.7M200.4,326.8h0.7M200.2,329.5h0.7M201.2,324.7h0.7M198.0,335.3h0.7M204.3,326.8h0.7M206.7,324.6h0.7M198.0,337.5h0.7M202.8,325.3h0.7M197.4,336.0h0.7M196.9,337.0h0.7M199.1,324.0h0.7M197.5,331.8h0.7M204.6,327.2h0.7M196.2,332.3h0.7M196.3,330.5h0.7M198.9,328.2h0.7M204.8,330.6h0.7M202.3,326.1h0.7M197.5,336.7h0.7M204.7,324.5h0.7M197.0,336.6h0.7M198.7,327.8h0.7M199.9,326.0h0.7M201.7,322.6h0.7M201.3,329.8h0.7M201.6,323.9h0.7M201.0,328.8h0.7M204.3,324.1h0.7M199.9,326.8h0.7M200.4,327.6h0.7M199.1,328.1h0.7M205.2,328.0h0.7M196.3,328.9h0.7M196.4,332.0h0.7M198.0,337.9h0.7M204.7,322.4h0.7M200.9,335.3h0.7M202.4,331.3h0.7M199.5,329.2h0.7M194.2,331.7h0.7" stroke="#666" stroke-width="0.7" fill="none"/>
<path d="M205.9,311.6h0.7M208.1,310.4h0.7M208.5,312.3h0.7M206.6,318.6h0.7M206.9,312.7h0.7M203.4,311.4h0.7M205.4,312.3h0.7M209.5,303.4h0.7M204.9,310.9h0.7M203.4,322.0h0.7M207.1,316.4h0.7M203.2,328.0h0.7M205.2,320.0h0.7M207.1,311.9h0.7M208.2,315.5h0.7M210.6,309.3h0.7M203.7,327.7h0.7M204.1,318.1h0.7M207.8,319.7h0.7M205.0,313.5h0.7M207.5,312.3h0.7M204.9,316.8h0.7M200.6,326.7h0.7M204.8,315.7h0.7M203.5,325.7h0.7M201.5,329.7h0.7M208.0,322.0h0.7M205.8,306.6h0.7M204.9,317.9h0.7M204.9,324.7h0.7M206.6,316.8h0.7M210.3,302.6h0.7M210.8,306.5h0.7M203.6,310.4h0.7M207.3,307.6h0.7M205.4,316.6h0.7M206.3,319.1h0.7M204.8,316.6h0.7M208.7,315.0h0.7M202.7,330.1h0.7M207.7,315.0h0.7M205.9,325.2h0.7M210.5,308.9h0.7M202.5,320.4h0.7M206.0,319.5h0.7M201.8,320.7h0.7M202.8,328.5h0.7M202.6,317.2h0.7M201.7,328.1h0.7M206.5,325.7h0.7M205.7,314.5h0.7M208.0,314.3h0.7M206.6,318.5h0.7M207.1,317.3h0.7M206.1,305.6h0.7M209.8,306.7h0.7M203.9,319.1h0.7M205.3,323.4h0.7M203.9,326.9h0.7M202.7,323.8h0.7M204.2,312.6h0.7M205.5,320.5h0.7M206.6,311.5h0.7M203.4,313.3h0.7M206.5,311.8h0.7M203.8,314.4h0.7M202.7,317.5h0.7M210.4,310.2h0.7M207.2,312.6h0.7M207.6,306.7h0.7M206.1,315.8h0.7M201.9,323.1h0.7M205.3,311.9h0.7M202.8,318.7h0.7M208.4,315.8h0.7M207.8,310.5h0.7M207.7,306.9h0.7M209.5,302.1h0.7M205.7,312.4h0.7M204.9,316.5h0.7M202.9,328.9h0.7M208.5,302.6h0.7M205.6,318.9h0.7M202.9,321.0h0.7M207.0,310.4h0.7M208.1,307.0h0.7M202.0,327.3h0.7M207.0,320.6h0.7M205.6,317.9h0.7M203.4,316.5h0.7M205.7,311.4h0.7M210.2,311.7h0.7M205.9,316.6h0.7M208.2,314.8h0.7M206.1,318.8h0.7M206.6,311.9h0.7M202.0,322.8h0.7M202.2,323.5h0.7M210.0,313.0h0.7M205.9,308.7h0.7M202.5,324.7h0.7M206.4,308.4h0.7M202.7,315.8h0.7M204.0,326.5h0.7M206.5,315.9h0.7M207.2,323.0h0.7M205.6,314.6h0.7M205.9,315.3h0.7M208.1,311.6h0.7M205.7,321.5h0.7" stroke="#555" stroke-width="0.7" fill="none"/>
<path d="M209.03,316.34 L208.34,318.29 L207.64,320.08 L206.96,321.85 L206.23,323.52 L205.48,324.79 L204.78,325.50 L204.15,325.89 L203.54,326.30 L202.89,326.72 L202.29,326.83 L201.84,326.38 L201.56,325.42 L201.44,324.09 L201.50,322.43 L201.77,320.51 L202.19,318.52 L202.63,316.62 L203.04,314.73 L203.50,312.75 L204.10,310.78 L204.83,309.06 L205.57,307.63 L206.31,306.29 L207.08,304.95 L207.85,303.92 L208.51,303.57 L209.00,303.93 L209.35,304.66 L209.63,305.51 L209.84,306.48 L209.97,307.66 L210.02,309.01 L210.01,310.50 L209.91,312.23 L209.59,314.24 L209.03,316.34Z" fill="none" stroke="#111" stroke-width="0.65"/>
<path d="M208.56,316.21 L208.03,317.93 L207.45,319.57 L206.84,321.16 L206.20,322.75 L205.51,324.27 L204.80,325.39 L204.15,325.91 L203.60,326.00 L203.09,325.99 L202.59,325.89 L202.21,325.39 L202.06,324.29 L202.12,322.79 L202.24,321.27 L202.32,319.84 L202.42,318.33 L202.65,316.61 L203.05,314.74 L203.58,312.84 L204.19,311.01 L204.88,309.39 L205.59,308.14 L206.27,307.25 L206.91,306.49 L207.55,305.70 L208.18,305.09 L208.71,305.02 L209.09,305.49 L209.38,306.19 L209.68,306.86 L209.96,307.67 L210.07,308.92 L209.91,310.63 L209.52,312.55 L209.05,314.42 L208.56,316.21Z" fill="none" stroke="#111" stroke-width="0.65"/>
<path d="M208.41,316.17 L207.98,317.88 L207.44,319.56 L206.84,321.14 L206.19,322.51 L205.54,323.49 L204.95,323.98 L204.44,324.21 L203.93,324.49 L203.40,324.82 L202.92,324.87 L202.59,324.36 L202.44,323.41 L202.36,322.32 L202.29,321.20 L202.29,319.88 L202.49,318.28 L202.88,316.53 L203.38,314.83 L203.92,313.23 L204.47,311.75 L205.05,310.40 L205.64,309.17 L206.24,307.95 L206.88,306.72 L207.54,305.75 L208.11,305.40 L208.53,305.67 L208.84,306.25 L209.14,306.83 L209.40,307.50 L209.52,308.52 L209.44,309.92 L209.21,311.48 L208.97,313.00 L208.72,314.53 L208.41,316.17Z" fill="none" stroke="#111" stroke-width="0.65"/>
<path d="M208.21,316.12 L207.76,317.63 L207.25,319.06 L206.71,320.33 L206.14,321.33 L205.61,322.01 L205.11,322.55 L204.61,323.18 L204.07,323.86 L203.56,324.24 L203.18,324.04 L202.96,323.37 L202.82,322.54 L202.70,321.66 L202.66,320.61 L202.77,319.30 L203.05,317.83 L203.40,316.35 L203.78,314.93 L204.18,313.53 L204.64,312.18 L205.13,310.87 L205.65,309.58 L206.22,308.32 L206.81,307.34 L207.34,306.92 L207.75,307.04 L208.08,307.37 L208.40,307.63 L208.73,307.92 L208.95,308.52 L209.01,309.50 L208.96,310.68 L208.87,311.89 L208.76,313.17 L208.55,314.59 L208.21,316.12Z" fill="none" stroke="#111" stroke-width="0.65"/>
<path d="M207.10,315.82 L206.87,316.61 L206.63,317.41 L206.36,318.24 L206.05,318.99 L205.72,319.58 L205.40,319.99 L205.10,320.24 L204.85,320.28 L204.66,320.12 L204.51,319.87 L204.35,319.64 L204.19,319.40 L204.08,319.01 L204.07,318.39 L204.16,317.62 L204.29,316.82 L204.42,316.01 L204.59,315.15 L204.83,314.28 L205.14,313.51 L205.46,312.87 L205.77,312.32 L206.07,311.81 L206.36,311.37 L206.65,311.01 L206.94,310.74 L207.23,310.55 L207.47,310.56 L207.63,310.88 L207.67,311.45 L207.66,312.11 L207.64,312.75 L207.62,313.41 L207.53,314.17 L207.34,315.01 L207.10,315.82Z" fill="none" stroke="#111" stroke-width="0.65"/>
<path d="M206.65,315.70 L206.52,316.21 L206.36,316.71 L206.18,317.16 L205.98,317.51 L205.80,317.79 L205.62,318.01 L205.46,318.14 L205.31,318.19 L205.17,318.21 L205.03,318.23 L204.89,318.21 L204.79,318.03 L204.77,317.67 L204.82,317.21 L204.89,316.73 L204.95,316.27 L205.03,315.80 L205.15,315.30 L205.31,314.82 L205.48,314.38 L205.64,313.96 L205.82,313.54 L206.00,313.17 L206.19,312.87 L206.38,312.65 L206.55,312.51 L206.70,312.51 L206.80,312.69 L206.84,312.99 L206.86,313.30 L206.90,313.57 L206.95,313.85 L206.95,314.23 L206.88,314.70 L206.77,315.20 L206.65,315.70Z" fill="none" stroke="#111" stroke-width="0.65"/>
</g>
<text x="261.8" y="10.8" font-size="11.5" font-weight="700" text-anchor="start" fill="#000" textLength="8.3" lengthAdjust="spacingAndGlyphs" >C</text>
<text x="303.5" y="6.9" font-size="7.4" font-weight="700" text-anchor="start" fill="#000" textLength="82.7" lengthAdjust="spacingAndGlyphs" >Flt3L/Rapa/FVIII (0.3 IU) IV</text>
<text x="331.7" y="16.2" font-size="7.4" font-weight="700" text-anchor="start" fill="#000" textLength="27" lengthAdjust="spacingAndGlyphs" >3x/week</text>
<path d="M308.2,35 L308.2,18.7 L377.7,18.7 L377.7,35" fill="none" stroke="#000" stroke-width="1.35"/>
<path d="M306.1,33.6 L310.3,33.6 L308.2,37.9 Z M375.6,33.6 L379.8,33.6 L377.7,37.9 Z" fill="#000"/>
<line x1="308" y1="41.1" x2="503.5" y2="41.1" stroke="#000" stroke-width="2"/>
<path d="M503,38.300000000000004 L503,43.9 L510,41.1 Z" fill="#000"/>
<text x="283" y="51.8" font-size="7.4" font-weight="700" text-anchor="start" fill="#000" textLength="17.8" lengthAdjust="spacingAndGlyphs" >Week</text>
<text x="306.7" y="52" font-size="7.4" font-weight="700" text-anchor="middle" fill="#000" >0</text>
<text x="323.7" y="52" font-size="7.4" font-weight="700" text-anchor="middle" fill="#000" >1</text>
<text x="340.9" y="52" font-size="7.4" font-weight="700" text-anchor="middle" fill="#000" >2</text>
<text x="358.3" y="52" font-size="7.4" font-weight="700" text-anchor="middle" fill="#000" >3</text>
<text x="376" y="52" font-size="7.4" font-weight="700" text-anchor="middle" fill="#000" >4</text>
<text x="393.3" y="52" font-size="7.4" font-weight="700" text-anchor="middle" fill="#000" >5</text>
<text x="410.5" y="52" font-size="7.4" font-weight="700" text-anchor="middle" fill="#000" >6</text>
<text x="428" y="52" font-size="7.4" font-weight="700" text-anchor="middle" fill="#000" >7</text>
<text x="445" y="52" font-size="7.4" font-weight="700" text-anchor="middle" fill="#000" >8</text>
<text x="463" y="52" font-size="7.4" font-weight="700" text-anchor="middle" fill="#000" >9</text>
<line x1="393.3" y1="71.2" x2="393.3" y2="56.8" stroke="#000" stroke-width="1.4"/>
<path d="M391.2,57.3 L395.40000000000003,57.3 L393.3,53.5 Z" fill="#000"/>
<line x1="410.5" y1="71.2" x2="410.5" y2="56.8" stroke="#000" stroke-width="1.4"/>
<path d="M408.4,57.3 L412.6,57.3 L410.5,53.5 Z" fill="#000"/>
<line x1="428" y1="71.2" x2="428" y2="56.8" stroke="#000" stroke-width="1.4"/>
<path d="M425.9,57.3 L430.1,57.3 L428,53.5 Z" fill="#000"/>
<line x1="445" y1="71.2" x2="445" y2="56.8" stroke="#000" stroke-width="1.4"/>
<path d="M442.9,57.3 L447.1,57.3 L445,53.5 Z" fill="#000"/>
<text x="397.5" y="82.6" font-size="7.4" font-weight="700" text-anchor="start" fill="#000" textLength="40.5" lengthAdjust="spacingAndGlyphs" >FVIII (1 IU) IV</text>
<text x="441.2" y="17.1" font-size="7.4" font-weight="700" text-anchor="start" fill="#000" textLength="48.8" lengthAdjust="spacingAndGlyphs" >Blood collection</text>
<line x1="462.7" y1="19.5" x2="462.7" y2="34.900000000000006" stroke="#000" stroke-width="1.4"/>
<path d="M460.59999999999997,34.400000000000006 L464.8,34.400000000000006 L462.7,38.2 Z" fill="#000"/>
<text x="261.8" y="83" font-size="11.5" font-weight="700" text-anchor="start" fill="#000" textLength="8.2" lengthAdjust="spacingAndGlyphs" >D</text>
<defs>
<filter id="soft" x="-10%" y="-10%" width="120%" height="120%"><feGaussianBlur stdDeviation="0.35"/></filter>
<pattern id="pdots" width="2.4" height="2.4" patternUnits="userSpaceOnUse"><rect width="2.4" height="2.4" fill="#141414"/><rect x="0.2" y="0.2" width="0.9" height="0.9" fill="#3a3a3a"/></pattern>
<pattern id="pcheck" width="2.4" height="2.4" patternUnits="userSpaceOnUse"><rect width="2.4" height="2.4" fill="#1c1c1c"/><rect x="0.15" y="0.15" width="1.0" height="1.0" fill="#d8d8d8"/><rect x="1.35" y="1.35" width="1.0" height="1.0" fill="#d8d8d8"/></pattern>
<pattern id="phz" width="3" height="2" patternUnits="userSpaceOnUse"><rect width="3" height="2" fill="#a0a0a0"/><rect y="0" width="3" height="0.9" fill="#707070"/></pattern>
<pattern id="pvt" width="2" height="3" patternUnits="userSpaceOnUse"><rect width="2" height="3" fill="#a8a8a8"/><rect x="0" width="0.9" height="3" fill="#707070"/></pattern>
</defs>
<line x1="285.3" y1="98.5" x2="285.3" y2="169" stroke="#000" stroke-width="1.5"/>
<line x1="283.3" y1="168.4" x2="285.3" y2="168.4" stroke="#000" stroke-width="1"/>
<text x="282.7" y="170.70000000000002" font-size="5.0" font-weight="700" text-anchor="end" fill="#000" textLength="2.6" lengthAdjust="spacingAndGlyphs" >0</text>
<line x1="283.3" y1="154.45000000000002" x2="285.3" y2="154.45000000000002" stroke="#000" stroke-width="1"/>
<text x="282.7" y="156.75000000000003" font-size="5.0" font-weight="700" text-anchor="end" fill="#000" textLength="5.0" lengthAdjust="spacingAndGlyphs" >20</text>
<line x1="283.3" y1="140.5" x2="285.3" y2="140.5" stroke="#000" stroke-width="1"/>
<text x="282.7" y="142.8" font-size="5.0" font-weight="700" text-anchor="end" fill="#000" textLength="5.0" lengthAdjust="spacingAndGlyphs" >40</text>
<line x1="283.3" y1="126.55000000000001" x2="285.3" y2="126.55000000000001" stroke="#000" stroke-width="1"/>
<text x="282.7" y="128.85000000000002" font-size="5.0" font-weight="700" text-anchor="end" fill="#000" textLength="5.0" lengthAdjust="spacingAndGlyphs" >60</text>
<line x1="283.3" y1="112.60000000000001" x2="285.3" y2="112.60000000000001" stroke="#000" stroke-width="1"/>
<text x="282.7" y="114.9" font-size="5.0" font-weight="700" text-anchor="end" fill="#000" textLength="5.0" lengthAdjust="spacingAndGlyphs" >80</text>
<line x1="283.3" y1="98.65" x2="285.3" y2="98.65" stroke="#000" stroke-width="1"/>
<text x="282.7" y="100.95" font-size="5.0" font-weight="700" text-anchor="end" fill="#000" textLength="7.6" lengthAdjust="spacingAndGlyphs" >100</text>
<line x1="285" y1="168.4" x2="386.5" y2="168.4" stroke="#000" stroke-width="1.6"/>
<line x1="297.8" y1="158.77450000000002" x2="297.8" y2="160.7275" stroke="#000" stroke-width="1.2"/>
<line x1="293.5" y1="158.77450000000002" x2="302.1" y2="158.77450000000002" stroke="#000" stroke-width="1.3"/>
<rect x="289.1" y="160.7275" width="17.399999999999977" height="7.672500000000014" fill="url(#pdots)" stroke="#000" stroke-width="1.3"/>
<line x1="297.8" y1="168.4" x2="297.8" y2="170.6" stroke="#000" stroke-width="1"/>
<line x1="323.1" y1="138.4075" x2="323.1" y2="143.63875000000002" stroke="#000" stroke-width="1.2"/>
<line x1="318.8" y1="138.4075" x2="327.40000000000003" y2="138.4075" stroke="#000" stroke-width="1.3"/>
<rect x="314.40000000000003" y="143.63875000000002" width="17.399999999999977" height="24.76124999999999" fill="url(#pcheck)" stroke="#000" stroke-width="1.3"/>
<line x1="323.1" y1="168.4" x2="323.1" y2="170.6" stroke="#000" stroke-width="1"/>
<line x1="348.1" y1="113.29750000000001" x2="348.1" y2="118.18" stroke="#000" stroke-width="1.2"/>
<line x1="343.8" y1="113.29750000000001" x2="352.40000000000003" y2="113.29750000000001" stroke="#000" stroke-width="1.3"/>
<rect x="339.40000000000003" y="118.18" width="17.399999999999977" height="50.22" fill="url(#phz)" stroke="#000" stroke-width="1.3"/>
<line x1="348.1" y1="168.4" x2="348.1" y2="170.6" stroke="#000" stroke-width="1"/>
<line x1="373.1" y1="117.4825" x2="373.1" y2="123.0625" stroke="#000" stroke-width="1.2"/>
<line x1="368.8" y1="117.4825" x2="377.40000000000003" y2="117.4825" stroke="#000" stroke-width="1.3"/>
<rect x="364.40000000000003" y="123.0625" width="17.399999999999977" height="45.337500000000006" fill="url(#pvt)" stroke="#000" stroke-width="1.3"/>
<line x1="373.1" y1="168.4" x2="373.1" y2="170.6" stroke="#000" stroke-width="1"/>
<text transform="translate(273.3,147.7) rotate(-90)" font-size="7.8" font-weight="700" textLength="21.6" lengthAdjust="spacingAndGlyphs">BU/ml</text>
<line x1="291.6" y1="102.6" x2="344.5" y2="102.6" stroke="#222" stroke-width="1.2"/>
<text x="317.6" y="102.9" font-size="6.5" font-weight="700" text-anchor="middle" fill="#000" textLength="8" lengthAdjust="spacingAndGlyphs" >***</text>
<line x1="318.4" y1="110.1" x2="344.5" y2="110.1" stroke="#222" stroke-width="1.2"/>
<text x="332.6" y="111.0" font-size="6.5" font-weight="700" text-anchor="middle" fill="#000" >*</text>
<line x1="294.4" y1="134.3" x2="319.5" y2="134.3" stroke="#222" stroke-width="1.2"/>
<text x="305.3" y="135.1" font-size="6.5" font-weight="700" text-anchor="middle" fill="#000" textLength="5.5" lengthAdjust="spacingAndGlyphs" >**</text>
<text transform="translate(271.5,201.8) rotate(-45)" font-size="4.6" font-weight="700" textLength="38.9" lengthAdjust="spacingAndGlyphs">Flt3L/Rapa/FVIII</text>
<text transform="translate(305.3,192.8) rotate(-45)" font-size="4.6" font-weight="700" textLength="26.9" lengthAdjust="spacingAndGlyphs">Rapa/FVIII</text>
<text transform="translate(341,181.3) rotate(-45)" font-size="4.6" font-weight="700" textLength="10.6" lengthAdjust="spacingAndGlyphs">Ctrl</text>
<text transform="translate(355,194.3) rotate(-45)" font-size="4.6" font-weight="700" textLength="29.0" lengthAdjust="spacingAndGlyphs">Flt3L/Rapa</text>
<line x1="418.3" y1="101.5" x2="418.3" y2="168.3" stroke="#000" stroke-width="1.5"/>
<line x1="416.3" y1="167.7" x2="418.3" y2="167.7" stroke="#000" stroke-width="1"/>
<text x="415.8" y="170.0" font-size="5.1" font-weight="700" text-anchor="end" fill="#000" textLength="2.6" lengthAdjust="spacingAndGlyphs" >0</text>
<line x1="416.3" y1="145.7" x2="418.3" y2="145.7" stroke="#000" stroke-width="1"/>
<text x="415.8" y="148.0" font-size="5.1" font-weight="700" text-anchor="end" fill="#000" textLength="10.4" lengthAdjust="spacingAndGlyphs" >5000</text>
<line x1="416.3" y1="123.69999999999999" x2="418.3" y2="123.69999999999999" stroke="#000" stroke-width="1"/>
<text x="415.8" y="125.99999999999999" font-size="5.1" font-weight="700" text-anchor="end" fill="#000" textLength="13" lengthAdjust="spacingAndGlyphs" >10000</text>
<line x1="416.3" y1="101.69999999999999" x2="418.3" y2="101.69999999999999" stroke="#000" stroke-width="1"/>
<text x="415.8" y="103.99999999999999" font-size="5.1" font-weight="700" text-anchor="end" fill="#000" textLength="13" lengthAdjust="spacingAndGlyphs" >15000</text>
<line x1="418" y1="167.7" x2="517.2" y2="167.7" stroke="#000" stroke-width="1.6"/>
<line x1="431" y1="162.2" x2="431" y2="163.29999999999998" stroke="#000" stroke-width="1.2"/>
<line x1="427.2" y1="162.2" x2="434.8" y2="162.2" stroke="#000" stroke-width="1.3"/>
<rect x="422.4" y="163.29999999999998" width="17.200000000000045" height="4.400000000000006" fill="url(#pdots)" stroke="#000" stroke-width="1.3"/>
<line x1="431" y1="167.7" x2="431" y2="169.9" stroke="#000" stroke-width="1"/>
<line x1="455.7" y1="122.38" x2="455.7" y2="136.89999999999998" stroke="#000" stroke-width="1.2"/>
<line x1="451.9" y1="122.38" x2="459.5" y2="122.38" stroke="#000" stroke-width="1.3"/>
<rect x="447.09999999999997" y="136.89999999999998" width="17.200000000000045" height="30.80000000000001" fill="url(#pcheck)" stroke="#000" stroke-width="1.3"/>
<line x1="455.7" y1="167.7" x2="455.7" y2="169.9" stroke="#000" stroke-width="1"/>
<line x1="480.6" y1="116.65999999999998" x2="480.6" y2="119.29999999999998" stroke="#000" stroke-width="1.2"/>
<line x1="476.8" y1="116.65999999999998" x2="484.40000000000003" y2="116.65999999999998" stroke="#000" stroke-width="1.3"/>
<rect x="472.0" y="119.29999999999998" width="17.200000000000045" height="48.400000000000006" fill="url(#phz)" stroke="#000" stroke-width="1.3"/>
<line x1="480.6" y1="167.7" x2="480.6" y2="169.9" stroke="#000" stroke-width="1"/>
<line x1="505.1" y1="133.82" x2="505.1" y2="136.89999999999998" stroke="#000" stroke-width="1.2"/>
<line x1="501.3" y1="133.82" x2="508.90000000000003" y2="133.82" stroke="#000" stroke-width="1.3"/>
<rect x="496.5" y="136.89999999999998" width="17.200000000000045" height="30.80000000000001" fill="url(#pvt)" stroke="#000" stroke-width="1.3"/>
<line x1="505.1" y1="167.7" x2="505.1" y2="169.9" stroke="#000" stroke-width="1"/>
<text transform="translate(394.2,172.8) rotate(-90)" font-size="8" font-weight="700" textLength="79.8" lengthAdjust="spacingAndGlyphs">Anti-F.VIII IgG (ng/ml)</text>
<line x1="426.6" y1="110.1" x2="480.1" y2="110.1" stroke="#555" stroke-width="1.2"/>
<text x="432.3" y="109.9" font-size="6.5" font-weight="700" text-anchor="middle" fill="#000" textLength="8.7" lengthAdjust="spacingAndGlyphs" >***</text>
<line x1="427.2" y1="118.9" x2="449.2" y2="118.9" stroke="#555" stroke-width="1.2"/>
<text x="432.9" y="119.7" font-size="6.5" font-weight="700" text-anchor="middle" fill="#000" >*</text>
<text transform="translate(398,204.8) rotate(-45)" font-size="4.6" font-weight="700" textLength="47.7" lengthAdjust="spacingAndGlyphs">Flt3L/Rapa/FVIII</text>
<text transform="translate(434,195.3) rotate(-45)" font-size="4.6" font-weight="700" textLength="31.6" lengthAdjust="spacingAndGlyphs">Rapa/FVIII</text>
<text transform="translate(472.5,180.3) rotate(-45)" font-size="4.6" font-weight="700" textLength="11.2" lengthAdjust="spacingAndGlyphs">Ctrl</text>
<text transform="translate(485.5,194.60000000000002) rotate(-45)" font-size="4.6" font-weight="700" textLength="30.5" lengthAdjust="spacingAndGlyphs">Flt3L/Rapa</text>
<text x="262.2" y="231.5" font-size="12" font-weight="700" text-anchor="start" fill="#000" textLength="6.8" lengthAdjust="spacingAndGlyphs" >E</text>
<line x1="308.5" y1="256.5" x2="503.5" y2="256.5" stroke="#000" stroke-width="2"/>
<path d="M503,253.7 L503,259.3 L510,256.5 Z" fill="#000"/>
<text x="284.3" y="267" font-size="7.4" font-weight="700" text-anchor="start" fill="#000" textLength="17.5" lengthAdjust="spacingAndGlyphs" >Week</text>
<text x="307.2" y="266.6" font-size="7.4" font-weight="700" text-anchor="middle" fill="#000" >0</text>
<text x="324.7" y="266.6" font-size="7.4" font-weight="700" text-anchor="middle" fill="#000" >1</text>
<text x="341.6" y="266.6" font-size="7.4" font-weight="700" text-anchor="middle" fill="#000" >2</text>
<text x="358.9" y="266.6" font-size="7.4" font-weight="700" text-anchor="middle" fill="#000" >3</text>
<text x="376.4" y="266.6" font-size="7.4" font-weight="700" text-anchor="middle" fill="#000" >4</text>
<text x="393.6" y="266.6" font-size="7.4" font-weight="700" text-anchor="middle" fill="#000" >5</text>
<text x="410.9" y="266.6" font-size="7.4" font-weight="700" text-anchor="middle" fill="#000" >6</text>
<text x="428.2" y="266.6" font-size="7.4" font-weight="700" text-anchor="middle" fill="#000" >7</text>
<text x="445.5" y="266.6" font-size="7.4" font-weight="700" text-anchor="middle" fill="#000" >8</text>
<text x="462.8" y="266.6" font-size="7.4" font-weight="700" text-anchor="middle" fill="#000" >9</text>
<path d="M307.2,271 L307.2,283.3 L376.4,283.3 L376.4,271" fill="none" stroke="#000" stroke-width="1.35"/>
<path d="M305.1,271.8 L309.3,271.8 L307.2,267.6 Z M374.3,271.8 L378.5,271.8 L376.4,267.6 Z" fill="#000"/>
<line x1="393.6" y1="286.5" x2="393.6" y2="271.6" stroke="#000" stroke-width="1.4"/>
<path d="M391.5,272.1 L395.70000000000005,272.1 L393.6,268.3 Z" fill="#000"/>
<line x1="410.9" y1="286.5" x2="410.9" y2="271.6" stroke="#000" stroke-width="1.4"/>
<path d="M408.79999999999995,272.1 L413.0,272.1 L410.9,268.3 Z" fill="#000"/>
<line x1="428.2" y1="286.5" x2="428.2" y2="271.6" stroke="#000" stroke-width="1.4"/>
<path d="M426.09999999999997,272.1 L430.3,272.1 L428.2,268.3 Z" fill="#000"/>
<line x1="445.5" y1="286.5" x2="445.5" y2="271.6" stroke="#000" stroke-width="1.4"/>
<path d="M443.4,272.1 L447.6,272.1 L445.5,268.3 Z" fill="#000"/>
<text x="308.3" y="292.5" font-size="7.4" font-weight="700" text-anchor="start" fill="#000" textLength="64.2" lengthAdjust="spacingAndGlyphs" >Flt3L/FVIII (0.3 IU) IV</text>
<text x="327.7" y="301.3" font-size="7.4" font-weight="700" text-anchor="start" fill="#000" textLength="27" lengthAdjust="spacingAndGlyphs" >3x/week</text>
<text x="398" y="296.6" font-size="7.4" font-weight="700" text-anchor="start" fill="#000" textLength="40.6" lengthAdjust="spacingAndGlyphs" >FVIII (1 IU) IV</text>
<text x="369.3" y="224.3" font-size="7.4" font-weight="700" text-anchor="start" fill="#000" textLength="48.6" lengthAdjust="spacingAndGlyphs" >Blood collection</text>
<text x="387.3" y="232.6" font-size="8" font-weight="700" text-anchor="start" fill="#000" textLength="13.9" lengthAdjust="spacingAndGlyphs" >(pre)</text>
<text x="438.3" y="224.3" font-size="7.4" font-weight="700" text-anchor="start" fill="#000" textLength="49.3" lengthAdjust="spacingAndGlyphs" >Blood collection</text>
<text x="454.1" y="232.6" font-size="8" font-weight="700" text-anchor="start" fill="#000" textLength="16.8" lengthAdjust="spacingAndGlyphs" >(post)</text>
<line x1="393.6" y1="236.8" x2="393.6" y2="250.7" stroke="#000" stroke-width="1.4"/>
<path d="M391.5,250.2 L395.70000000000005,250.2 L393.6,254 Z" fill="#000"/>
<line x1="462.4" y1="236.8" x2="462.4" y2="250.7" stroke="#000" stroke-width="1.4"/>
<path d="M460.29999999999995,250.2 L464.5,250.2 L462.4,254 Z" fill="#000"/>
<text x="262.3" y="318" font-size="11" font-weight="700" text-anchor="start" fill="#000" textLength="5.6" lengthAdjust="spacingAndGlyphs" >F</text>
<line x1="307.6" y1="320.6" x2="307.6" y2="381.5" stroke="#000" stroke-width="1.3"/>
<line x1="305.6" y1="380.9" x2="307.6" y2="380.9" stroke="#000" stroke-width="1"/>
<text x="305.6" y="382.7" font-size="4.8" font-weight="700" text-anchor="end" fill="#333" style="stroke:#333" textLength="2.4" lengthAdjust="spacingAndGlyphs" >0</text>
<line x1="305.6" y1="365.9" x2="307.6" y2="365.9" stroke="#000" stroke-width="1"/>
<text x="305.6" y="367.7" font-size="4.8" font-weight="700" text-anchor="end" fill="#333" style="stroke:#333" textLength="7.3" lengthAdjust="spacingAndGlyphs" >500</text>
<line x1="305.6" y1="350.9" x2="307.6" y2="350.9" stroke="#000" stroke-width="1"/>
<text x="305.6" y="352.7" font-size="4.8" font-weight="700" text-anchor="end" fill="#333" style="stroke:#333" textLength="9.7" lengthAdjust="spacingAndGlyphs" >1000</text>
<line x1="305.6" y1="335.9" x2="307.6" y2="335.9" stroke="#000" stroke-width="1"/>
<text x="305.6" y="337.7" font-size="4.8" font-weight="700" text-anchor="end" fill="#333" style="stroke:#333" textLength="9.7" lengthAdjust="spacingAndGlyphs" >1500</text>
<line x1="305.6" y1="320.9" x2="307.6" y2="320.9" stroke="#000" stroke-width="1"/>
<text x="305.6" y="322.7" font-size="4.8" font-weight="700" text-anchor="end" fill="#333" style="stroke:#333" textLength="9.7" lengthAdjust="spacingAndGlyphs" >2000</text>
<line x1="307" y1="380.9" x2="395" y2="380.9" stroke="#000" stroke-width="1.5"/>
<line x1="329.6" y1="373.7" x2="329.6" y2="375.5" stroke="#000" stroke-width="1.2"/>
<line x1="322.2" y1="373.7" x2="337" y2="373.7" stroke="#000" stroke-width="1.3"/>
<rect x="314.6" y="375.40999999999997" width="30.299999999999955" height="5.490000000000009" fill="#000" stroke="#000" stroke-width="1.3"/>
<line x1="374.4" y1="336.5" x2="374.4" y2="343.7" stroke="#000" stroke-width="1.2"/>
<line x1="366.9" y1="336.5" x2="381.8" y2="336.5" stroke="#000" stroke-width="1.3"/>
<rect x="359.8" y="343.90999999999997" width="30.099999999999966" height="36.99000000000001" fill="#fff" stroke="#000" stroke-width="1.3"/>
<text transform="translate(292.2,361.7) rotate(-90)" font-size="8.2" font-weight="700" textLength="22.9" lengthAdjust="spacingAndGlyphs">BU/ml</text>
<text x="314.1" y="387.5" font-size="4.7" font-weight="700" text-anchor="start" fill="#222" style="stroke:#222" textLength="31" lengthAdjust="spacingAndGlyphs" >Flt3L/FVIII pre</text>
<text x="357.4" y="387.5" font-size="4.7" font-weight="700" text-anchor="start" fill="#222" style="stroke:#222" textLength="34.2" lengthAdjust="spacingAndGlyphs" >Flt3L/FVIII post</text>
<line x1="429" y1="320.6" x2="429" y2="381.8" stroke="#000" stroke-width="1.3"/>
<line x1="427" y1="381.4" x2="429" y2="381.4" stroke="#000" stroke-width="1"/>
<text x="426.6" y="383.2" font-size="4.8" font-weight="700" text-anchor="end" fill="#333" style="stroke:#333" textLength="2.4" lengthAdjust="spacingAndGlyphs" >0</text>
<line x1="427" y1="366.275" x2="429" y2="366.275" stroke="#000" stroke-width="1"/>
<text x="426.6" y="368.075" font-size="4.8" font-weight="700" text-anchor="end" fill="#333" style="stroke:#333" textLength="11.5" lengthAdjust="spacingAndGlyphs" >10000</text>
<line x1="427" y1="351.15" x2="429" y2="351.15" stroke="#000" stroke-width="1"/>
<text x="426.6" y="352.95" font-size="4.8" font-weight="700" text-anchor="end" fill="#333" style="stroke:#333" textLength="11.5" lengthAdjust="spacingAndGlyphs" >20000</text>
<line x1="427" y1="336.025" x2="429" y2="336.025" stroke="#000" stroke-width="1"/>
<text x="426.6" y="337.825" font-size="4.8" font-weight="700" text-anchor="end" fill="#333" style="stroke:#333" textLength="11.5" lengthAdjust="spacingAndGlyphs" >30000</text>
<line x1="427" y1="320.9" x2="429" y2="320.9" stroke="#000" stroke-width="1"/>
<text x="426.6" y="322.7" font-size="4.8" font-weight="700" text-anchor="end" fill="#333" style="stroke:#333" textLength="11.5" lengthAdjust="spacingAndGlyphs" >40000</text>
<line x1="428.5" y1="381.2" x2="516.4" y2="381.2" stroke="#000" stroke-width="1.5"/>
<line x1="451" y1="351.4525" x2="451" y2="358.7125" stroke="#000" stroke-width="1.2"/>
<line x1="443" y1="351.4525" x2="458.7" y2="351.4525" stroke="#000" stroke-width="1.3"/>
<rect x="436.4" y="358.86375" width="30.0" height="22.536249999999995" fill="#000" stroke="#000" stroke-width="1.3"/>
<line x1="496" y1="332.6975" x2="496" y2="336.025" stroke="#000" stroke-width="1.2"/>
<line x1="488.8" y1="332.6975" x2="503.2" y2="332.6975" stroke="#000" stroke-width="1.3"/>
<rect x="480.4" y="336.17625" width="31.100000000000023" height="45.223749999999995" fill="#f2f2f2" stroke="#000" stroke-width="1.3"/>
<text transform="translate(410.6,364) rotate(-90)" font-size="4.6" font-weight="700" textLength="34.6" lengthAdjust="spacingAndGlyphs" fill="#333" style="stroke:#333;stroke-width:0.15px">α-FVIII IgG1 (ng/ml)</text>
<text x="436" y="387.8" font-size="4.7" font-weight="700" text-anchor="start" fill="#333" style="stroke:#333" textLength="30.3" lengthAdjust="spacingAndGlyphs" >Flt3L/FVIII pre</text>
<text x="480.4" y="387.8" font-size="4.7" font-weight="700" text-anchor="start" fill="#333" style="stroke:#333" textLength="31" lengthAdjust="spacingAndGlyphs" >Flt3L/FVIII post</text>
</svg>
</body></html>
